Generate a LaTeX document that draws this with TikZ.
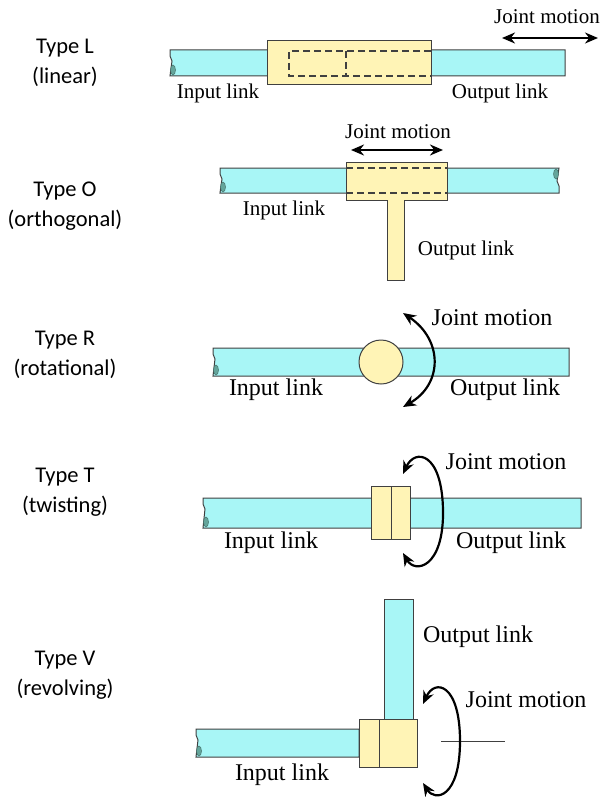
\documentclass[tikz,border=0pt]{standalone}
\usepackage{fontspec}
\setmainfont{Liberation Serif}
\newfontfamily\typefont{Carlito}
\usetikzlibrary{arrows.meta}

\definecolor{linkcyan}{RGB}{168,246,246}
\definecolor{jointyellow}{RGB}{255,244,182}
\definecolor{edgegray}{RGB}{64,64,64}
\definecolor{stubteal}{RGB}{100,165,155}

% link bar with a broken left end: x0, x1, top, bottom
\newcommand{\linkbar}[4]{%
  \draw[link] (#1,#4) -- (#2,#4) -- (#2,#3) -- (#1,#3) -- ++(0,6) -- ++(2,5) -- cycle;
  \draw[stub] (#1+3,#4-6) ellipse [x radius=2.5, y radius=5];}

\begin{document}
\begin{tikzpicture}[x=1pt,y=-1pt,
    link/.style={fill=linkcyan,draw=edgegray,line width=1pt},
    joint/.style={fill=jointyellow,draw=edgegray,line width=1pt},
    stub/.style={fill=stubteal,draw=stubteal!70!black,line width=0.5pt},
    hidden/.style={draw=edgegray,line width=1.1pt,dash pattern=on 7pt off 4pt},
    motion/.style={line width=2.2pt,{Stealth[length=13pt,width=11pt]}-{Stealth[length=13pt,width=11pt]}},
    typelabel/.style={align=center,inner sep=0pt,font=\typefont\fontsize{22.5}{30}\selectfont},
    tag/.style={inner sep=0pt,font=\fontsize{21}{24}\selectfont},
    bigtag/.style={inner sep=0pt,font=\fontsize{24}{28}\selectfont}]

  \useasboundingbox (0,0) rectangle (608,797);

  % left column
  \node[typelabel] (typeL) at (65,63)  {Type L\\(linear)};
  \node[typelabel] (typeO) at (65,206) {Type O\\(orthogonal)};
  \node[typelabel] (typeR) at (65,355) {Type R\\(rotational)};
  \node[typelabel] (typeT) at (65,492) {Type T\\(twisting)};
  \node[typelabel] (typeV) at (65,675) {Type V\\(revolving)};

  % type L
  \linkbar{170}{565}{50}{76}
  \draw[joint] (267,41) rectangle (431,85);
  \draw[hidden] (431,51) -- (289,51) -- (289,76) -- (431,76);
  \draw[hidden] (346,51) -- (346,76);
  \node[tag] (inL)  at (218,93)  {Input link};
  \node[tag] (outL) at (500,93)  {Output link};
  \node[tag] (motL) at (547,17)  {Joint motion};
  \coordinate (mL1) at (502,38);
  \coordinate (mL2) at (598,38);
  \draw[motion] (mL1) -- (mL2);

  % type O
  \draw[link] (220,193) -- (559,193) -- ++(0,-7) -- ++(-2,-5) -- (559,168) -- (220,168) -- ++(0,6) -- ++(2,5) -- cycle;
  \draw[stub] (223,187) ellipse [x radius=2.5, y radius=5];
  \draw[stub] (556,174) ellipse [x radius=2.5, y radius=5];
  \draw[joint] (346,162) -- (447,162) -- (447,200) -- (404,200) -- (404,280)
    -- (387,280) -- (387,200) -- (346,200) -- cycle;
  \draw[hidden] (346,168) -- (447,168);
  \draw[hidden] (346,193) -- (447,193);
  \node[tag] (inO)  at (284,210) {Input link};
  \node[tag] (outO) at (466,250) {Output link};
  \node[tag] (motO) at (398,132) {Joint motion};
  \coordinate (mO1) at (351,150);
  \coordinate (mO2) at (443,150);
  \draw[motion] (mO1) -- (mO2);

  % type R
  \linkbar{213}{569}{348}{376}
  \draw[joint] (381,362) circle [radius=22];
  \node[bigtag] (inR)  at (276,390) {Input link};
  \node[bigtag] (outR) at (505,390) {Output link};
  \node[bigtag] (motR) at (492,318) {Joint motion};
  \coordinate (mR1) at (403,313);
  \coordinate (mR2) at (403,407);
  \draw[motion] (mR1) .. controls (443,340) and (443,384) .. (mR2);

  % type T
  \linkbar{203}{581}{498}{528}
  \draw[joint] (371,486) rectangle (410,539);
  \draw[edgegray,line width=1pt] (391,486) -- (391,539);
  \node[bigtag] (inT)  at (271,543) {Input link};
  \node[bigtag] (outT) at (511,543) {Output link};
  \node[bigtag] (motT) at (506,462) {Joint motion};
  \coordinate (mT1) at (403,474);
  \coordinate (mT2) at (403,553);
  \draw[motion] (mT1) .. controls (415,448) and (442,452) .. (443,510)
    .. controls (444,568) and (415,574) .. (mT2);

  % type V
  \draw[link] (384,599) rectangle (413,719);
  \linkbar{196}{359}{729}{757}
  \draw[joint] (359,719) rectangle (417,767);
  \draw[edgegray,line width=1pt] (379,719) -- (379,767);
  \draw[edgegray,line width=1pt] (441,741) -- (505,741);
  \node[bigtag] (inV)  at (282,775) {Input link};
  \node[bigtag] (outV) at (478,637) {Output link};
  \node[bigtag] (motV) at (526,700) {Joint motion};
  \coordinate (mV1) at (423,704);
  \coordinate (mV2) at (423,783);
  \draw[motion] (mV1) .. controls (435,678) and (460,684) .. (460,741)
    .. controls (460,798) and (435,802) .. (mV2);

\end{tikzpicture}
\end{document}
